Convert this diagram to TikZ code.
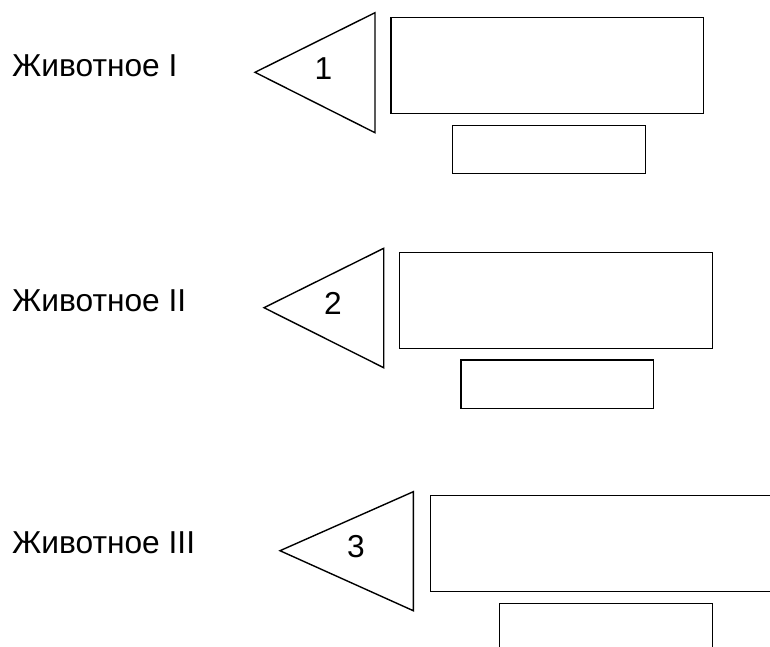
\documentclass[tikz,border=0pt]{standalone}
\usepackage{fontspec}
\setmainfont{Liberation Sans}
\begin{document}
\begin{tikzpicture}[x=1pt,y=-1pt,
  shapeline/.style={draw=black, line width=1.4pt, line join=miter},
  txt/.style={inner sep=0pt, font=\fontsize{31.7}{38}\selectfont},
]
\useasboundingbox (0,0) rectangle (770,646);
\clip (0,0) rectangle (770,646);

% group 1
\node[txt, anchor=base west] (l1) at (12,76.7) {Животное I};
\draw[shapeline] (255,72.3) -- (375,12.7) -- (375,132.7) -- cycle;
\node[txt, anchor=base] (n1) at (323.5,79.3) {1};
\draw[shapeline] (391,17.3) rectangle (703.3,113.3);
\draw[shapeline] (452.7,125.3) rectangle (645.7,173.3);

% group 2
\node[txt, anchor=base west] (l2) at (12,311.7) {Животное II};
\draw[shapeline] (264,307.7) -- (383.7,248.3) -- (383.7,367.7) -- cycle;
\node[txt, anchor=base] (n2) at (333,314) {2};
\draw[shapeline] (399.3,252.7) rectangle (712.3,348.3);
\draw[shapeline] (461,360) rectangle (653.7,408.3);

% group 3
\node[txt, anchor=base west] (l3) at (12,553.3) {Животное III};
\draw[shapeline] (280,550.7) -- (413.3,491.7) -- (413.3,610.7) -- cycle;
\node[txt, anchor=base] (n3) at (356,557.3) {3};
\draw[shapeline] (430.7,495.3) rectangle (780,591.7);
\draw[shapeline] (499.3,603.3) rectangle (712.7,660);
\end{tikzpicture}
\end{document}
